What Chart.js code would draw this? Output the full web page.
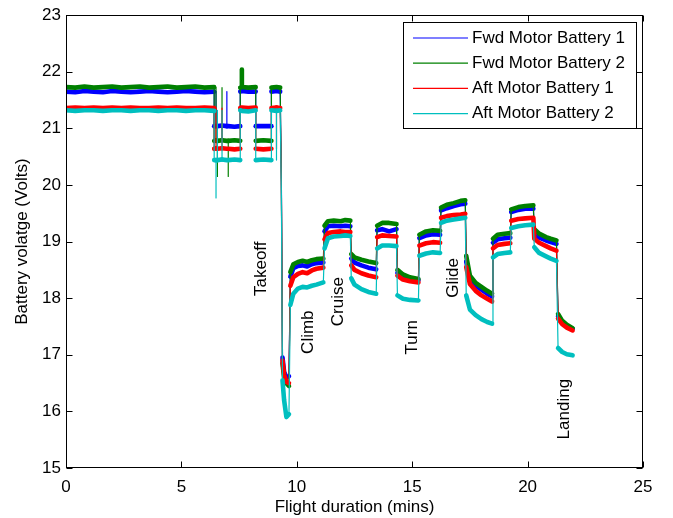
<!DOCTYPE html>
<html>
<head>
<meta charset="utf-8">
<script src="https://cdn.jsdelivr.net/npm/chart.js@4.4.1/dist/chart.umd.min.js"></script>
<style>
  html, body { margin: 0; padding: 0; background: #fff; }
  canvas { display: block; }
</style>
</head>
<body>
<canvas id="c" width="673" height="518"></canvas>
<script>
// ---- data ----
const seriesNames = ['Fwd Motor Battery 1', 'Fwd Motor Battery 2', 'Aft Motor Battery 1', 'Aft Motor Battery 2'];

const flightMin = [
  0.00, 0.40, 0.80, 1.20, 1.60, 2.00, 2.40, 2.80, 3.20, 3.60, 4.00, 4.40, 4.80, 5.20, 5.60, 6.00, 6.42,
  6.42, 6.50, 6.50, 6.50, 6.56, 6.56, 6.56, 6.76, 6.76, 6.76, 6.97, 6.97, 6.97, 7.03, 7.03, 7.03, 7.30, 7.55,
  7.55, 7.62, 7.62, 7.62, 7.90, 8.22,
  8.22, 8.55, 8.90,
  8.90, 9.12, 9.12, 9.12, 9.28,
  9.33, 9.38, 9.45, 9.55, 9.66,
  9.72, 9.85, 10.05, 10.25, 10.45, 10.65, 10.85, 11.15,
  11.20, 11.35, 11.60, 11.90, 12.10, 12.32,
  12.36, 12.50, 12.80, 13.10, 13.44,
  13.48, 13.70, 14.00, 14.32,
  14.36, 14.60, 14.90, 15.27,
  15.31, 15.60, 15.90, 16.21,
  16.25, 16.50, 16.80, 17.10, 17.30,
  17.34, 17.50, 17.75, 18.00, 18.25, 18.46,
  18.50, 18.70, 19.00, 19.25,
  19.29, 19.60, 19.90, 20.25,
  20.29, 20.50, 20.80, 21.00, 21.25,
  21.32, 21.50, 21.70, 21.95
];

const fwdBattery1 = [
  21.65, 21.64, 21.66, 21.65, 21.64, 21.66, 21.65, 21.64, 21.65, 21.66, 21.65, 21.64, 21.65, 21.66, 21.65, 21.64, 21.65,
  21.04, 21.04, 21.65, 21.04, 21.04, 21.04, 21.04, 21.05, 21.05, 21.05, 21.04, 21.65, 21.04, 21.04, 21.04, 21.04, 21.03, 21.04,
  21.65, 21.66, 21.66, 21.66, 21.65, 21.65,
  21.04, 21.04, 21.04,
  21.65, 21.66, 21.66, 21.66, 21.65,
  20.20, 16.95, 16.70, 16.60, 16.62,
  18.38, 18.53, 18.57, 18.58, 18.56, 18.60, 18.62, 18.63,
  19.18, 19.27, 19.28, 19.27, 19.28, 19.27,
  18.70, 18.63, 18.58, 18.54, 18.51,
  19.20, 19.22, 19.18, 19.22,
  18.45, 18.38, 18.34, 18.32,
  19.06, 19.11, 19.13, 19.12,
  19.55, 19.59, 19.63, 19.66, 19.67,
  18.65, 18.35, 18.22, 18.15, 18.08, 18.03,
  18.98, 19.04, 19.06, 19.07,
  19.52, 19.56, 19.58, 19.58,
  19.14, 19.07, 19.02, 18.99, 18.96,
  17.68, 17.57, 17.51, 17.46
];

const fwdBattery2 = [
  21.73, 21.72, 21.74, 21.72, 21.73, 21.74, 21.72, 21.73, 21.74, 21.72, 21.73, 21.74, 21.72, 21.73, 21.74, 21.72, 21.73,
  20.78, 20.79, 21.72, 20.78, 20.78, 20.15, 20.78, 20.79, 21.72, 20.79, 20.78, 20.78, 20.78, 20.78, 20.15, 20.78, 20.79, 20.78,
  21.72, 21.73, 22.04, 21.73, 21.72, 21.73,
  20.78, 20.79, 20.78,
  21.72, 21.73, 21.73, 21.73, 21.72,
  20.10, 16.85, 16.60, 16.50, 16.45,
  18.46, 18.60, 18.64, 18.66, 18.64, 18.67, 18.69, 18.70,
  19.28, 19.36, 19.37, 19.36, 19.38, 19.37,
  18.78, 18.72, 18.68, 18.65, 18.62,
  19.28, 19.33, 19.33, 19.31,
  18.50, 18.42, 18.37, 18.34,
  19.12, 19.18, 19.20, 19.19,
  19.60, 19.65, 19.68, 19.72, 19.73,
  18.75, 18.40, 18.27, 18.20, 18.13, 18.08,
  19.05, 19.12, 19.14, 19.15,
  19.57, 19.61, 19.63, 19.64,
  19.22, 19.14, 19.08, 19.05, 19.02,
  17.72, 17.60, 17.53, 17.47
];

const aftBattery1 = [
  21.36, 21.37, 21.36, 21.37, 21.36, 21.37, 21.36, 21.37, 21.36, 21.36, 21.37, 21.36, 21.37, 21.36, 21.36, 21.37, 21.36,
  20.64, 20.65, 21.36, 20.64, 20.64, 20.64, 20.64, 20.65, 21.36, 20.65, 20.64, 20.64, 20.64, 20.64, 20.64, 20.64, 20.63, 20.64,
  21.36, 21.37, 21.37, 21.37, 21.36, 21.37,
  20.64, 20.63, 20.64,
  21.36, 21.37, 20.64, 21.37, 21.36,
  20.05, 16.90, 16.65, 16.52, 16.50,
  18.22, 18.37, 18.43, 18.46, 18.44, 18.49, 18.52, 18.54,
  19.04, 19.15, 19.17, 19.18, 19.17, 19.17,
  18.58, 18.50, 18.44, 18.40, 18.37,
  19.08, 19.11, 19.10, 19.09,
  18.40, 18.33, 18.30, 18.28,
  18.93, 18.97, 18.99, 18.98,
  19.42, 19.45, 19.47, 19.48, 19.49,
  18.55, 18.25, 18.13, 18.05, 17.99, 17.94,
  18.88, 18.94, 18.96, 18.97,
  19.37, 19.40, 19.41, 19.42,
  19.05, 18.98, 18.92, 18.88, 18.84,
  17.64, 17.54, 17.48, 17.43
];

const aftBattery2 = [
  21.32, 21.31, 21.32, 21.32, 21.31, 21.32, 21.32, 21.31, 21.32, 21.32, 21.31, 21.32, 21.32, 21.31, 21.32, 21.32, 21.31,
  20.44, 20.44, 19.77, 20.44, 20.44, 21.32, 20.44, 20.45, 21.32, 20.45, 20.44, 20.44, 20.44, 20.44, 20.44, 20.44, 20.45, 20.44,
  21.32, 21.31, 21.31, 21.31, 21.30, 21.32,
  20.44, 20.45, 20.44,
  21.32, 21.31, 20.44, 21.31, 21.32,
  19.95, 16.55, 16.20, 15.90, 15.95,
  17.88, 18.08, 18.17, 18.20, 18.19, 18.22, 18.24, 18.28,
  18.88, 19.06, 19.09, 19.10, 19.11, 19.10,
  18.35, 18.24, 18.16, 18.11, 18.08,
  18.88, 18.93, 18.93, 18.92,
  18.05, 17.99, 17.97, 17.96,
  18.75, 18.79, 18.81, 18.80,
  19.33, 19.37, 19.39, 19.41, 19.42,
  18.05, 17.80, 17.70, 17.63, 17.58, 17.55,
  18.72, 18.78, 18.80, 18.81,
  19.24, 19.27, 19.29, 19.30,
  18.90, 18.80, 18.74, 18.70, 18.66,
  17.12, 17.05, 17.01, 16.99
];

const xTicks = [0, 5, 10, 15, 20, 25];
const yTicks = [15, 16, 17, 18, 19, 20, 21, 22, 23];

const phaseLabels = ['Takeoff', 'Climb', 'Cruise', 'Turn', 'Glide', 'Landing'];
const phaseAtMin  = [8.48, 10.49, 11.79, 14.99, 16.77, 21.58];
const phaseAtVolt = [18.52, 17.40, 17.94, 17.31, 18.36, 16.04];

// ---- styling ----
const FONT = '"Liberation Sans", Arial, Helvetica, sans-serif';
const colors = ['#0000FF', '#008000', '#FF0000', '#00BFBF'];
const seriesValues = [fwdBattery1, fwdBattery2, aftBattery1, aftBattery2];
const BAND = 4.6;

const datasets = seriesValues.map((vals, i) => ({
  label: seriesNames[i],
  data: flightMin.map((t, k) => ({ x: t, y: vals[k] })),
  borderColor: colors[i],
  backgroundColor: colors[i],
  borderWidth: BAND,
  pointRadius: 0,
  tension: 0,
  fill: false,
  borderCapStyle: 'round',
  borderJoinStyle: 'round',
  order: 3 - i,
  segment: {
    borderWidth: ctx => Math.abs(ctx.p1.parsed.y - ctx.p0.parsed.y) > 0.4 ? 1.2 : BAND
  }
}));

const framePlugin = {
  id: 'frame',
  afterDraw(chart) {
    const { ctx, chartArea: a, scales: { x, y } } = chart;
    ctx.save();
    ctx.strokeStyle = '#000';
    ctx.lineWidth = 1;
    const L = Math.round(a.left) + 0.5, R = Math.round(a.right) - 0.5;
    const T = Math.round(a.top) + 0.5, B = Math.round(a.bottom) - 0.5;
    ctx.strokeRect(L, T, R - L, B - T);
    ctx.beginPath();
    const tl = 6;
    xTicks.forEach(v => {
      const px = Math.round(x.getPixelForValue(v)) + 0.5;
      ctx.moveTo(px, B); ctx.lineTo(px, B - tl);
      ctx.moveTo(px, T); ctx.lineTo(px, T + tl);
    });
    yTicks.forEach(v => {
      const py = Math.round(y.getPixelForValue(v)) + 0.5;
      ctx.moveTo(L, py); ctx.lineTo(L + tl, py);
      ctx.moveTo(R, py); ctx.lineTo(R - tl, py);
    });
    ctx.stroke();

    // phase annotations (rotated text)
    ctx.fillStyle = '#000';
    ctx.font = '17px ' + FONT;
    ctx.textAlign = 'center';
    ctx.textBaseline = 'middle';
    phaseLabels.forEach((txt, i) => {
      const px = x.getPixelForValue(phaseAtMin[i]);
      const py = y.getPixelForValue(phaseAtVolt[i]);
      ctx.save();
      ctx.translate(px, py);
      ctx.rotate(-Math.PI / 2);
      ctx.fillText(txt, 0, 0);
      ctx.restore();
    });

    // legend box
    const bx = 403.5, by = 22.5, bw = 233, bh = 106;
    ctx.fillStyle = '#fff';
    ctx.fillRect(bx, by, bw, bh);
    ctx.strokeStyle = '#000';
    ctx.lineWidth = 1;
    ctx.strokeRect(bx, by, bw, bh);
    ctx.textAlign = 'left';
    ctx.font = '17px ' + FONT;
    chart.data.datasets.forEach((ds, i) => {
      const ry = 38 + i * 25.2;
      ctx.strokeStyle = ds.borderColor;
      ctx.lineWidth = 1.2;
      ctx.beginPath();
      ctx.moveTo(413, ry); ctx.lineTo(468, ry);
      ctx.stroke();
      ctx.fillStyle = '#000';
      ctx.fillText(ds.label, 472, ry);
    });
    ctx.restore();
  }
};

new Chart(document.getElementById('c'), {
  type: 'line',
  data: { datasets },
  options: {
    responsive: false,
    animation: false,
    devicePixelRatio: 1,
    layout: { padding: { top: 13, right: 30, left: 0, bottom: 0 } },
    plugins: { legend: { display: false }, tooltip: { enabled: false } },
    scales: {
      x: {
        type: 'linear', min: 0, max: 25,
        afterFit: s => { s.height = 50; },
        afterBuildTicks: s => { s.ticks = xTicks.map(v => ({ value: v })); },
        grid: { display: false, drawTicks: false },
        border: { display: false },
        ticks: { autoSkip: false, maxRotation: 0, padding: 9, color: '#000', font: { family: FONT, size: 17 } },
        title: { display: true, text: 'Flight duration (mins)', color: '#000', font: { family: FONT, size: 17 }, padding: { top: 0, bottom: 0 } }
      },
      y: {
        type: 'linear', min: 15, max: 23,
        afterFit: s => { s.width = 66; },
        afterBuildTicks: s => { s.ticks = yTicks.map(v => ({ value: v })); },
        grid: { display: false, drawTicks: false },
        border: { display: false },
        ticks: { autoSkip: false, padding: 5, color: '#000', font: { family: FONT, size: 17 } },
        title: { display: true, text: 'Battery volatge (Volts)', color: '#000', font: { family: FONT, size: 17 }, padding: { top: 12, bottom: 0 } }
      }
    }
  },
  plugins: [framePlugin]
});
</script>
</body>
</html>
